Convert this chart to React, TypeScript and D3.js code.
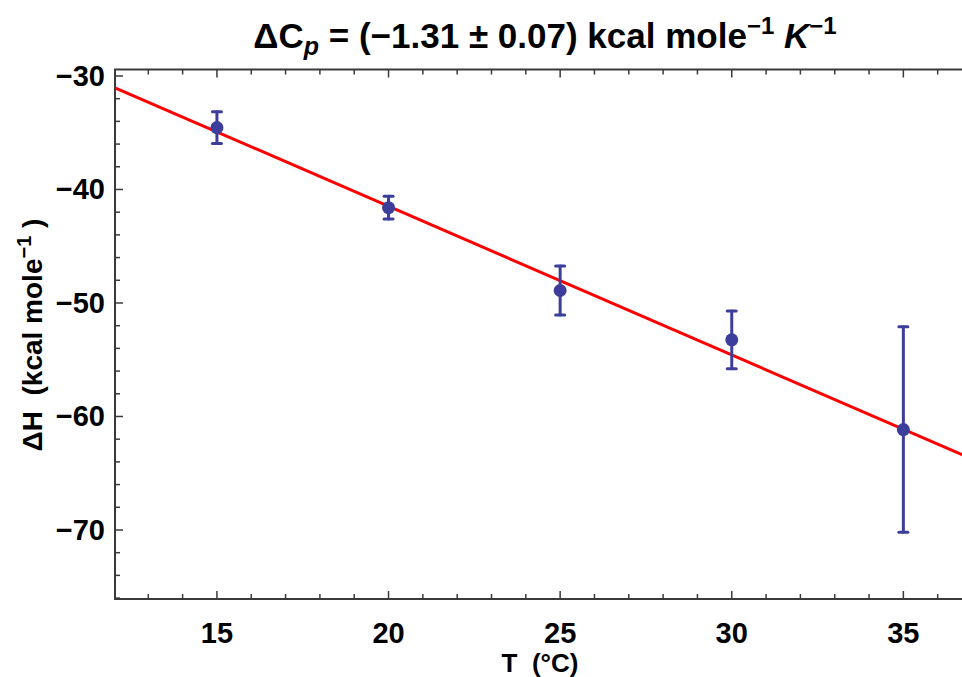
import React from "react";
import * as d3 from "d3";

const temps = [15, 20, 25, 30, 35];
const deltaH = [-34.55, -41.6, -48.9, -53.25, -61.15];
const errors = [1.4, 1.0, 2.15, 2.55, 9.05];
const fitSlope = -1.31;
const fitIntercept = -15.28;
const xTickValues = [15, 20, 25, 30, 35];
const yTickValues = [-30, -40, -50, -60, -70];

const W = 962;
const H = 677;
const left = 115;
const right = 972;
const top = 69.5;
const bottom = 599;

export default function App() {
  const x = d3.scaleLinear().domain([12.03, 37]).range([left, right]);
  const y = d3.scaleLinear().domain([-76.08, -29.43]).range([bottom, top]);

  const xMinor = d3.range(13, 37, 1);
  const yMinor = d3.range(-76, -29, 2);

  const lineGen = d3
    .line<number>()
    .x((t) => x(t))
    .y((t) => y(fitIntercept + fitSlope * t));
  const fitPts = [12.03, 37];

  const font = "'Liberation Sans', Arial, sans-serif";
  const axisColor = "#3a3a3a";
  const ptColor = "#3d3d9b";

  return (
    <svg
      width={W}
      height={H}
      style={{ position: "absolute", left: 0, top: 0, background: "#fff" }}
      fontFamily={font}
    >
      <defs>
        <clipPath id="plotclip">
          <rect x={left} y={top} width={right - left} height={bottom - top} />
        </clipPath>
      </defs>
      <rect
        x={left}
        y={top}
        width={right - left}
        height={bottom - top}
        fill="none"
        stroke={axisColor}
        strokeWidth={2}
      />
      {xMinor.map((t) => {
        const major = t % 5 === 0;
        const len = major ? 8 : 5;
        return (
          <g key={"xt" + t}>
            <line x1={x(t)} x2={x(t)} y1={bottom} y2={bottom - len} stroke={axisColor} strokeWidth={1.5} />
            <line x1={x(t)} x2={x(t)} y1={top} y2={top + len} stroke={axisColor} strokeWidth={1.5} />
          </g>
        );
      })}
      {yMinor.map((v) => {
        const major = v % 10 === 0;
        const len = major ? 8 : 5;
        return (
          <line key={"yt" + v} x1={left} x2={left + len} y1={y(v)} y2={y(v)} stroke={axisColor} strokeWidth={1.5} />
        );
      })}
      {xTickValues.map((t) => (
        <text
          key={"xl" + t}
          x={x(t)}
          y={643}
          textAnchor="middle"
          fontSize={29}
          fontWeight="bold"
          fill="#000"
        >
          {t}
        </text>
      ))}
      {yTickValues.map((v) => (
        <text
          key={"yl" + v}
          x={105}
          y={y(v) + 10}
          textAnchor="end"
          fontSize={29}
          fontWeight="bold"
          fill="#000"
        >
          {"\u2212" + Math.abs(v)}
        </text>
      ))}
      <g clipPath="url(#plotclip)">
        <path d={lineGen(fitPts) || ""} fill="none" stroke="#ff0000" strokeWidth={3} />
        {temps.map((t, i) => {
          const cx = x(t);
          const y1 = y(deltaH[i] + errors[i]);
          const y2 = y(deltaH[i] - errors[i]);
          return (
            <g key={"e" + t} stroke={ptColor} strokeWidth={3} strokeLinecap="round">
              <line x1={cx} x2={cx} y1={y1} y2={y2} />
              <line x1={cx - 4.5} x2={cx + 4.5} y1={y1} y2={y1} />
              <line x1={cx - 4.5} x2={cx + 4.5} y1={y2} y2={y2} />
            </g>
          );
        })}
        {temps.map((t, i) => (
          <circle key={"p" + t} cx={x(t)} cy={y(deltaH[i])} r={6.5} fill={ptColor} />
        ))}
      </g>
      <text x={545} y={48} textAnchor="middle" fontSize={35} fontWeight="bold" fill="#000">
        <tspan>{"\u0394C"}</tspan>
        <tspan fontStyle="italic" fontSize={25} dy={7}>p</tspan>
        <tspan dy={-7}>{" = (\u22121.31 \u00B1 0.07) kcal mole"}</tspan>
        <tspan fontSize={24} dy={-14}>{"\u22121"}</tspan>
        <tspan dy={14}>{"\u00A0"}</tspan>
        <tspan fontStyle="italic">K</tspan>
        <tspan fontSize={24} dy={-14}>{"\u22121"}</tspan>
      </text>
      <text
        transform={`translate(42, 335) rotate(-90)`}
        textAnchor="middle"
        fontSize={28}
        fontWeight="bold"
        fill="#000"
      >
        <tspan>{"\u0394H\u00A0\u00A0(kcal mole"}</tspan>
        <tspan fontSize={20} dy={-11}>{"\u22121"}</tspan>
        <tspan dy={11}>{"\u00A0)"}</tspan>
      </text>
      <text x={540} y={672} textAnchor="middle" fontSize={26} fontWeight="bold" fill="#000">
        {"T\u00A0\u00A0(\u00B0C)"}
      </text>
    </svg>
  );
}
